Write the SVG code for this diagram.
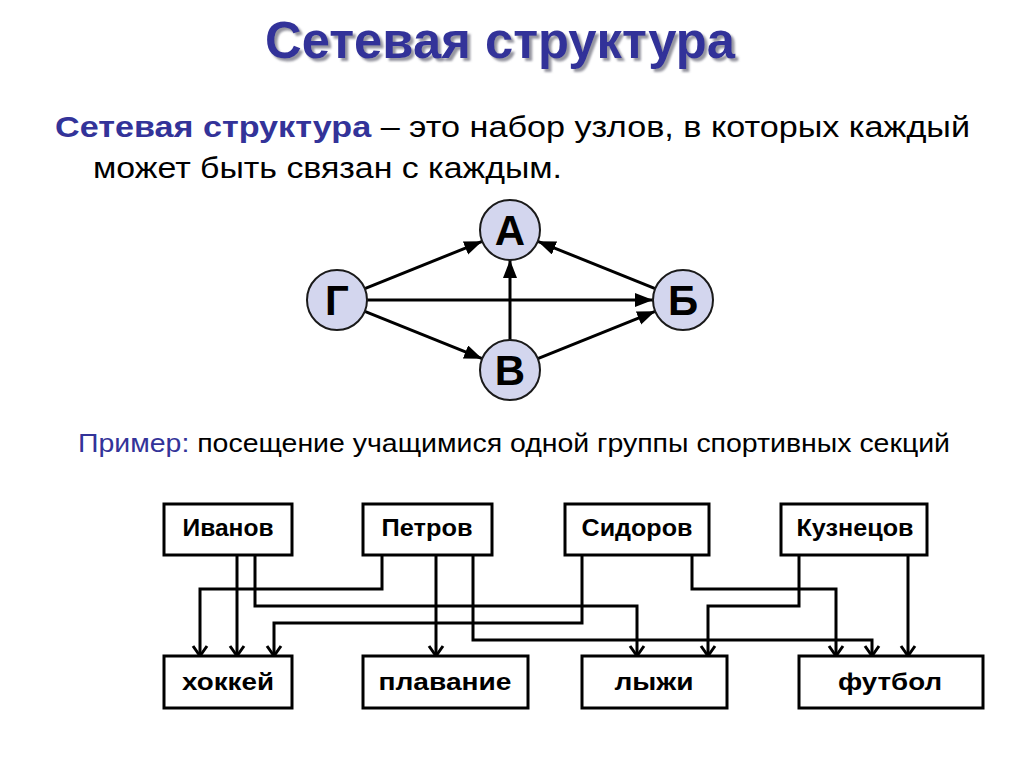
<svg xmlns="http://www.w3.org/2000/svg" width="1024" height="767" viewBox="0 0 1024 767">
<defs>
<style>
.t{font-family:"Liberation Sans",Arial,sans-serif}
.blue{fill:#333399}
.node circle{fill:#d3d6ee;stroke:#1a1a1a;stroke-width:2}
.node text{font-family:"Liberation Sans",Arial,sans-serif;font-weight:bold;font-size:42px;fill:#000;text-anchor:middle}
.box rect{fill:#fff;stroke:#000;stroke-width:3}
.box text{font-family:"Liberation Sans",Arial,sans-serif;font-weight:bold;font-size:24px;fill:#000;text-anchor:middle}
.edge{stroke:#000;stroke-width:3;fill:none;marker-end:url(#tri)}
.conn{stroke:#000;stroke-width:3;fill:none;marker-end:url(#vee)}
</style>
<filter id="shadow" x="-5%" y="-20%" width="110%" height="150%">
<feDropShadow dx="3" dy="3" stdDeviation="1.2" flood-color="#8a8a96" flood-opacity="0.9"/>
</filter>
<marker id="tri" markerUnits="userSpaceOnUse" markerWidth="20" markerHeight="16" refX="18" refY="7" orient="auto">
<path d="M0,0 L18,7 L0,14 Z" fill="#000"/>
</marker>
<marker id="vee" markerUnits="userSpaceOnUse" markerWidth="20" markerHeight="20" refX="15" refY="10" orient="auto">
<path d="M5,3 L15,10 L5,17" fill="none" stroke="#000" stroke-width="3"/>
</marker>
</defs>
<rect width="1024" height="767" fill="#fff"/>
<g id="title">
<text class="t blue" x="500" y="58" font-size="52" font-weight="bold" text-anchor="middle" textLength="470" lengthAdjust="spacingAndGlyphs" filter="url(#shadow)">Сетевая структура</text>
</g>
<g id="definition">
<text class="t" x="55" y="137" font-size="30" textLength="915" lengthAdjust="spacingAndGlyphs"><tspan class="blue" font-weight="bold">Сетевая структура</tspan><tspan fill="#000"> – это набор узлов, в которых каждый</tspan></text>
<text class="t" x="93" y="178" font-size="30" fill="#000" textLength="469" lengthAdjust="spacingAndGlyphs">может быть связан с каждым.</text>
</g>
<g id="graph-edges">
<line class="edge" x1="364.8" y1="288.7" x2="482.2" y2="241.3"/>
<line class="edge" x1="655.2" y1="288.7" x2="537.8" y2="241.3"/>
<line class="edge" x1="510" y1="340" x2="510" y2="260"/>
<line class="edge" x1="367" y1="300" x2="653" y2="300"/>
<line class="edge" x1="364.8" y1="311.3" x2="482.2" y2="358.7"/>
<line class="edge" x1="537.8" y1="358.7" x2="655.2" y2="311.3"/>
</g>
<g id="node-A" class="node"><circle cx="510" cy="230" r="30"/><text x="510" y="245">А</text></g>
<g id="node-G" class="node"><circle cx="337" cy="300" r="30"/><text x="337" y="315">Г</text></g>
<g id="node-B" class="node"><circle cx="683" cy="300" r="30"/><text x="683" y="315">Б</text></g>
<g id="node-V" class="node"><circle cx="510" cy="370" r="30"/><text x="510" y="385">В</text></g>
<g id="example">
<text class="t" x="78" y="452" font-size="25" textLength="872" lengthAdjust="spacingAndGlyphs"><tspan class="blue">Пример:</tspan><tspan fill="#000"> посещение учащимися одной группы спортивных секций</tspan></text>
</g>
<g id="connectors">
<path class="conn" d="M237,555 V656"/>
<path class="conn" d="M255,555 V606 H637 V656"/>
<path class="conn" d="M382,555 V589 H200 V656"/>
<path class="conn" d="M436,555 V656"/>
<path class="conn" d="M473,555 V640 H872 V656"/>
<path class="conn" d="M582,555 V623 H274 V656"/>
<path class="conn" d="M692,555 V589 H836 V656"/>
<path class="conn" d="M799,555 V606 H708 V656"/>
<path class="conn" d="M908,555 V656"/>
</g>
<g id="ivanov" class="box"><rect x="164" y="504" width="128" height="51"/><text x="228" y="536" textLength="91" lengthAdjust="spacingAndGlyphs">Иванов</text></g>
<g id="petrov" class="box"><rect x="363" y="504" width="129" height="51"/><text x="427" y="536" textLength="91" lengthAdjust="spacingAndGlyphs">Петров</text></g>
<g id="sidorov" class="box"><rect x="565" y="504" width="144" height="51"/><text x="637" y="536" textLength="111" lengthAdjust="spacingAndGlyphs">Сидоров</text></g>
<g id="kuznetsov" class="box"><rect x="781" y="504" width="146" height="51"/><text x="855" y="536" textLength="117" lengthAdjust="spacingAndGlyphs">Кузнецов</text></g>
<g id="hockey" class="box"><rect x="164" y="656" width="128" height="52"/><text x="228" y="690" textLength="92" lengthAdjust="spacingAndGlyphs">хоккей</text></g>
<g id="swimming" class="box"><rect x="363" y="656" width="165" height="52"/><text x="445" y="690" textLength="133" lengthAdjust="spacingAndGlyphs">плавание</text></g>
<g id="skiing" class="box"><rect x="582" y="656" width="145" height="52"/><text x="654" y="690" textLength="79" lengthAdjust="spacingAndGlyphs">лыжи</text></g>
<g id="football" class="box"><rect x="799" y="656" width="184" height="52"/><text x="890" y="690" textLength="104" lengthAdjust="spacingAndGlyphs">футбол</text></g>
</svg>
